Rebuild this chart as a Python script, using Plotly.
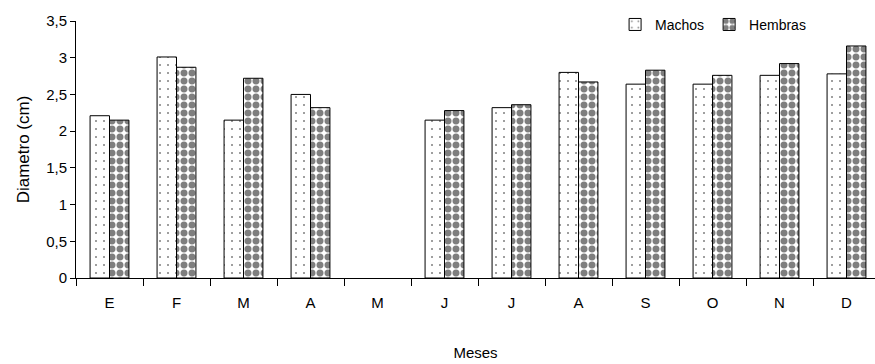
import plotly.graph_objects as go

months = ["E", "F", "M", "A", "M", "J", "J", "A", "S", "O", "N", "D"]
machos = [2.21, 3.01, 2.15, 2.50, None, 2.15, 2.32, 2.80, 2.64, 2.64, 2.76, 2.78]
hembras = [2.15, 2.87, 2.72, 2.32, None, 2.28, 2.36, 2.67, 2.83, 2.76, 2.92, 3.16]
yticks = [0, 0.5, 1, 1.5, 2, 2.5, 3, 3.5]

xpos = list(range(len(months)))
FONT = "Liberation Sans, Arial, sans-serif"

fig = go.Figure()
fig.add_trace(go.Bar(
    name="Machos", x=xpos, y=machos,
    marker=dict(color="white", line=dict(color="black", width=1),
                pattern=dict(shape=".", fgcolor="black", bgcolor="white",
                             size=8, solidity=0.05)),
))
fig.add_trace(go.Bar(
    name="Hembras", x=xpos, y=hembras,
    marker=dict(color="white", line=dict(color="black", width=1),
                pattern=dict(shape=".", fgcolor="black", bgcolor="white",
                             size=8, solidity=0.6)),
))

fig.update_layout(
    width=875, height=364,
    margin=dict(l=76, r=0, t=21, b=86),
    paper_bgcolor="white", plot_bgcolor="white",
    barmode="group", bargap=0.42, bargroupgap=0,
    separators=", ",
    font=dict(family=FONT, size=14, color="black"),
    showlegend=True,
    legend=dict(orientation="h", x=0.92, xanchor="right", y=0.985, yanchor="middle",
                font=dict(size=14), bgcolor="rgba(0,0,0,0)",
                itemwidth=30, tracegroupgap=0),
)
fig.update_xaxes(
    range=[-0.5, -0.5 + 799 / 67], tickmode="array", tickvals=xpos, ticktext=months,
    ticks="", showgrid=False, zeroline=False,
    showline=True, linecolor="black", linewidth=1,
    tickfont=dict(size=15), ticklabelstandoff=11,
    minor=dict(tickmode="array", tickvals=[i - 0.5 for i in xpos] + [len(months) - 0.5],
               ticks="outside", ticklen=7, tickcolor="black", showgrid=False),
    title=dict(text="Meses", font=dict(size=15), standoff=37),
)
fig.update_yaxes(
    range=[0, 3.5], tickmode="array", tickvals=yticks,
    ticks="outside", ticklen=5, tickcolor="black",
    showgrid=False, zeroline=False,
    showline=True, linecolor="black", linewidth=1,
    tickfont=dict(size=15),
    title=dict(text="Diametro (cm)", font=dict(size=17), standoff=12),
)

fig.write_html("out.html")
